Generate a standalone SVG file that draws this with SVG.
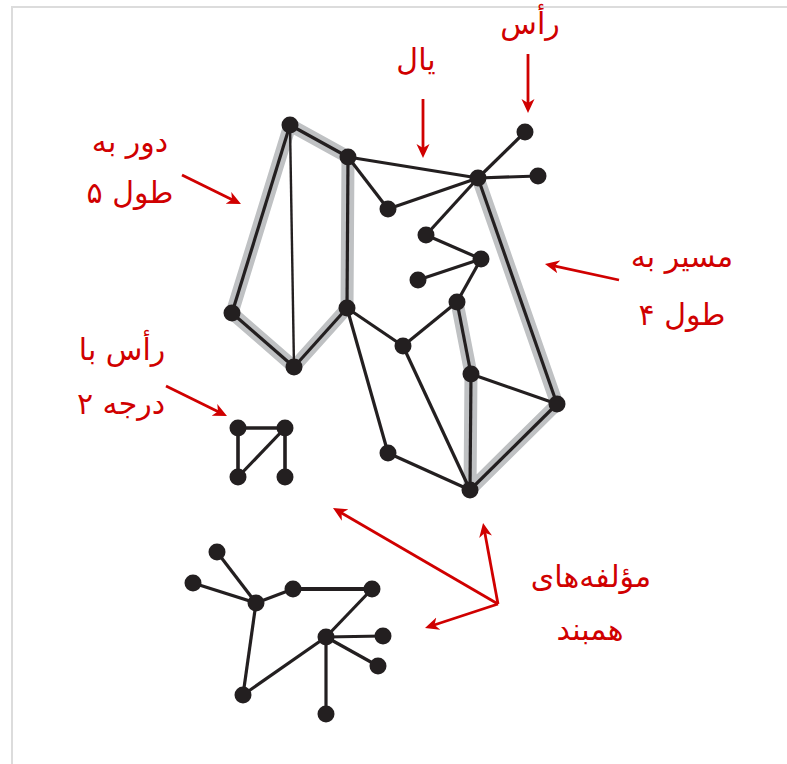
<svg xmlns="http://www.w3.org/2000/svg" width="787" height="764" viewBox="0 0 787 764">
<style>
.hl{fill:none;stroke:#bfc1c3;stroke-width:13;stroke-linejoin:round;stroke-linecap:round}
.e{stroke:#231f20;stroke-width:3.2;fill:none}
.n{fill:#231f20}
.a{stroke:#d00000;stroke-width:2.8;fill:none;marker-end:url(#ah)}
.t{fill:#d00000;font-family:"DejaVu Sans",sans-serif;font-size:30px;text-anchor:middle;direction:rtl}
</style>
<defs>
<marker id="ah" markerUnits="userSpaceOnUse" viewBox="-6 -7 14 14" refX="0" refY="0" markerWidth="14" markerHeight="14" orient="auto">
<path d="M-6,-6.5 L8,0 L-6,6.5 L-2,0 Z" fill="#d00000"/>
</marker>
</defs>
<rect x="12" y="7" width="900" height="900" fill="none" stroke="#dcdcdc" stroke-width="2"/>
<g id="highlights">
<polyline class="hl" points="290,125 348,157 347,308 294,367 232,313 290,125"/>
<polyline class="hl" points="478,178 557,404 470,490 471,374 457,302"/>
</g>
<g id="connectors">
<line class="e" x1="290" y1="125" x2="348" y2="157"/>
<line class="e" x1="290" y1="125" x2="232" y2="313"/>
<line class="e" x1="290" y1="125" x2="294" y2="367" style="stroke-width:2.4"/>
<line class="e" x1="232" y1="313" x2="294" y2="367"/>
<line class="e" x1="294" y1="367" x2="347" y2="308"/>
<line class="e" x1="347" y1="308" x2="348" y2="157"/>
<line class="e" x1="348" y1="157" x2="478" y2="178"/>
<line class="e" x1="348" y1="157" x2="388" y2="209"/>
<line class="e" x1="388" y1="209" x2="478" y2="178"/>
<line class="e" x1="478" y1="178" x2="525" y2="132"/>
<line class="e" x1="478" y1="178" x2="538" y2="176"/>
<line class="e" x1="478" y1="178" x2="426" y2="235"/>
<line class="e" x1="426" y1="235" x2="481" y2="259"/>
<line class="e" x1="481" y1="259" x2="418" y2="280"/>
<line class="e" x1="481" y1="259" x2="457" y2="302"/>
<line class="e" x1="457" y1="302" x2="403" y2="346"/>
<line class="e" x1="347" y1="308" x2="403" y2="346"/>
<line class="e" x1="347" y1="308" x2="388" y2="453"/>
<line class="e" x1="403" y1="346" x2="470" y2="490"/>
<line class="e" x1="388" y1="453" x2="470" y2="490"/>
<line class="e" x1="457" y1="302" x2="471" y2="374"/>
<line class="e" x1="471" y1="374" x2="470" y2="490"/>
<line class="e" x1="471" y1="374" x2="557" y2="404"/>
<line class="e" x1="470" y1="490" x2="557" y2="404"/>
<line class="e" x1="557" y1="404" x2="478" y2="178"/>
<line class="e" x1="238" y1="428" x2="285" y2="428" style="stroke-width:3.6"/>
<line class="e" x1="238" y1="428" x2="238" y2="477" style="stroke-width:3.6"/>
<line class="e" x1="285" y1="428" x2="238" y2="477"/>
<line class="e" x1="285" y1="428" x2="285" y2="477" style="stroke-width:3.6"/>
<line class="e" x1="217" y1="552" x2="256" y2="603"/>
<line class="e" x1="193" y1="583" x2="256" y2="603"/>
<line class="e" x1="256" y1="603" x2="293" y2="589"/>
<line class="e" x1="293" y1="589" x2="372" y2="589" style="stroke-width:4"/>
<line class="e" x1="372" y1="589" x2="326" y2="637"/>
<line class="e" x1="326" y1="637" x2="383" y2="636"/>
<line class="e" x1="326" y1="637" x2="378" y2="666"/>
<line class="e" x1="326" y1="637" x2="326" y2="714"/>
<line class="e" x1="326" y1="637" x2="243" y2="695"/>
<line class="e" x1="256" y1="603" x2="243" y2="695"/>
</g>
<g id="nodes">
<circle id="v1" class="n" cx="290" cy="125" r="8.5"/>
<circle id="v2" class="n" cx="348" cy="157" r="8.5"/>
<circle id="v3" class="n" cx="478" cy="178" r="8.5"/>
<circle id="v4" class="n" cx="525" cy="132" r="8.5"/>
<circle id="v5" class="n" cx="538" cy="176" r="8.5"/>
<circle id="v6" class="n" cx="388" cy="209" r="8.5"/>
<circle id="v7" class="n" cx="426" cy="235" r="8.5"/>
<circle id="v8" class="n" cx="481" cy="259" r="8.5"/>
<circle id="v9" class="n" cx="418" cy="280" r="8.5"/>
<circle id="v10" class="n" cx="457" cy="302" r="8.5"/>
<circle id="v11" class="n" cx="232" cy="313" r="8.5"/>
<circle id="v12" class="n" cx="347" cy="308" r="8.5"/>
<circle id="v13" class="n" cx="294" cy="367" r="8.5"/>
<circle id="v14" class="n" cx="403" cy="346" r="8.5"/>
<circle id="v15" class="n" cx="471" cy="374" r="8.5"/>
<circle id="v16" class="n" cx="557" cy="404" r="8.5"/>
<circle id="v17" class="n" cx="388" cy="453" r="8.5"/>
<circle id="v18" class="n" cx="470" cy="490" r="8.5"/>
<circle id="s1" class="n" cx="238" cy="428" r="8.5"/>
<circle id="s2" class="n" cx="285" cy="428" r="8.5"/>
<circle id="s3" class="n" cx="238" cy="477" r="8.5"/>
<circle id="s4" class="n" cx="285" cy="477" r="8.5"/>
<circle id="t1" class="n" cx="217" cy="552" r="8.5"/>
<circle id="t2" class="n" cx="193" cy="583" r="8.5"/>
<circle id="t3" class="n" cx="256" cy="603" r="8.5"/>
<circle id="t4" class="n" cx="293" cy="589" r="8.5"/>
<circle id="t5" class="n" cx="372" cy="589" r="8.5"/>
<circle id="t6" class="n" cx="326" cy="637" r="8.5"/>
<circle id="t7" class="n" cx="383" cy="636" r="8.5"/>
<circle id="t8" class="n" cx="378" cy="666" r="8.5"/>
<circle id="t9" class="n" cx="243" cy="695" r="8.5"/>
<circle id="t10" class="n" cx="326" cy="714" r="8.5"/>
</g>
<g id="annotations">
<line class="a" x1="528" y1="54" x2="528" y2="105"/>
<line class="a" x1="423" y1="99" x2="423" y2="150"/>
<line class="a" x1="182" y1="175" x2="233.8" y2="200.5"/>
<line class="a" x1="619" y1="280" x2="552.8" y2="265.7"/>
<line class="a" x1="166" y1="386" x2="219.8" y2="412.5"/>
<line class="a" x1="498" y1="604" x2="339.9" y2="512"/>
<line class="a" x1="498" y1="604" x2="484.5" y2="530.9"/>
<line class="a" x1="498" y1="604" x2="432.6" y2="625.5"/>
<text class="t" x="530" y="34">رأس</text>
<text class="t" x="416" y="70">یال</text>
<text class="t" x="130" y="152">دور به</text>
<text class="t" x="130" y="203">طول ۵</text>
<text class="t" x="682" y="267">مسیر به</text>
<text class="t" x="682" y="325">طول ۴</text>
<text class="t" x="122" y="360">رأس با</text>
<text class="t" x="121" y="414">درجه ۲</text>
<text class="t" x="591" y="587">مؤلفه‌های</text>
<text class="t" x="590" y="640">همبند</text>
</g>
</svg>
